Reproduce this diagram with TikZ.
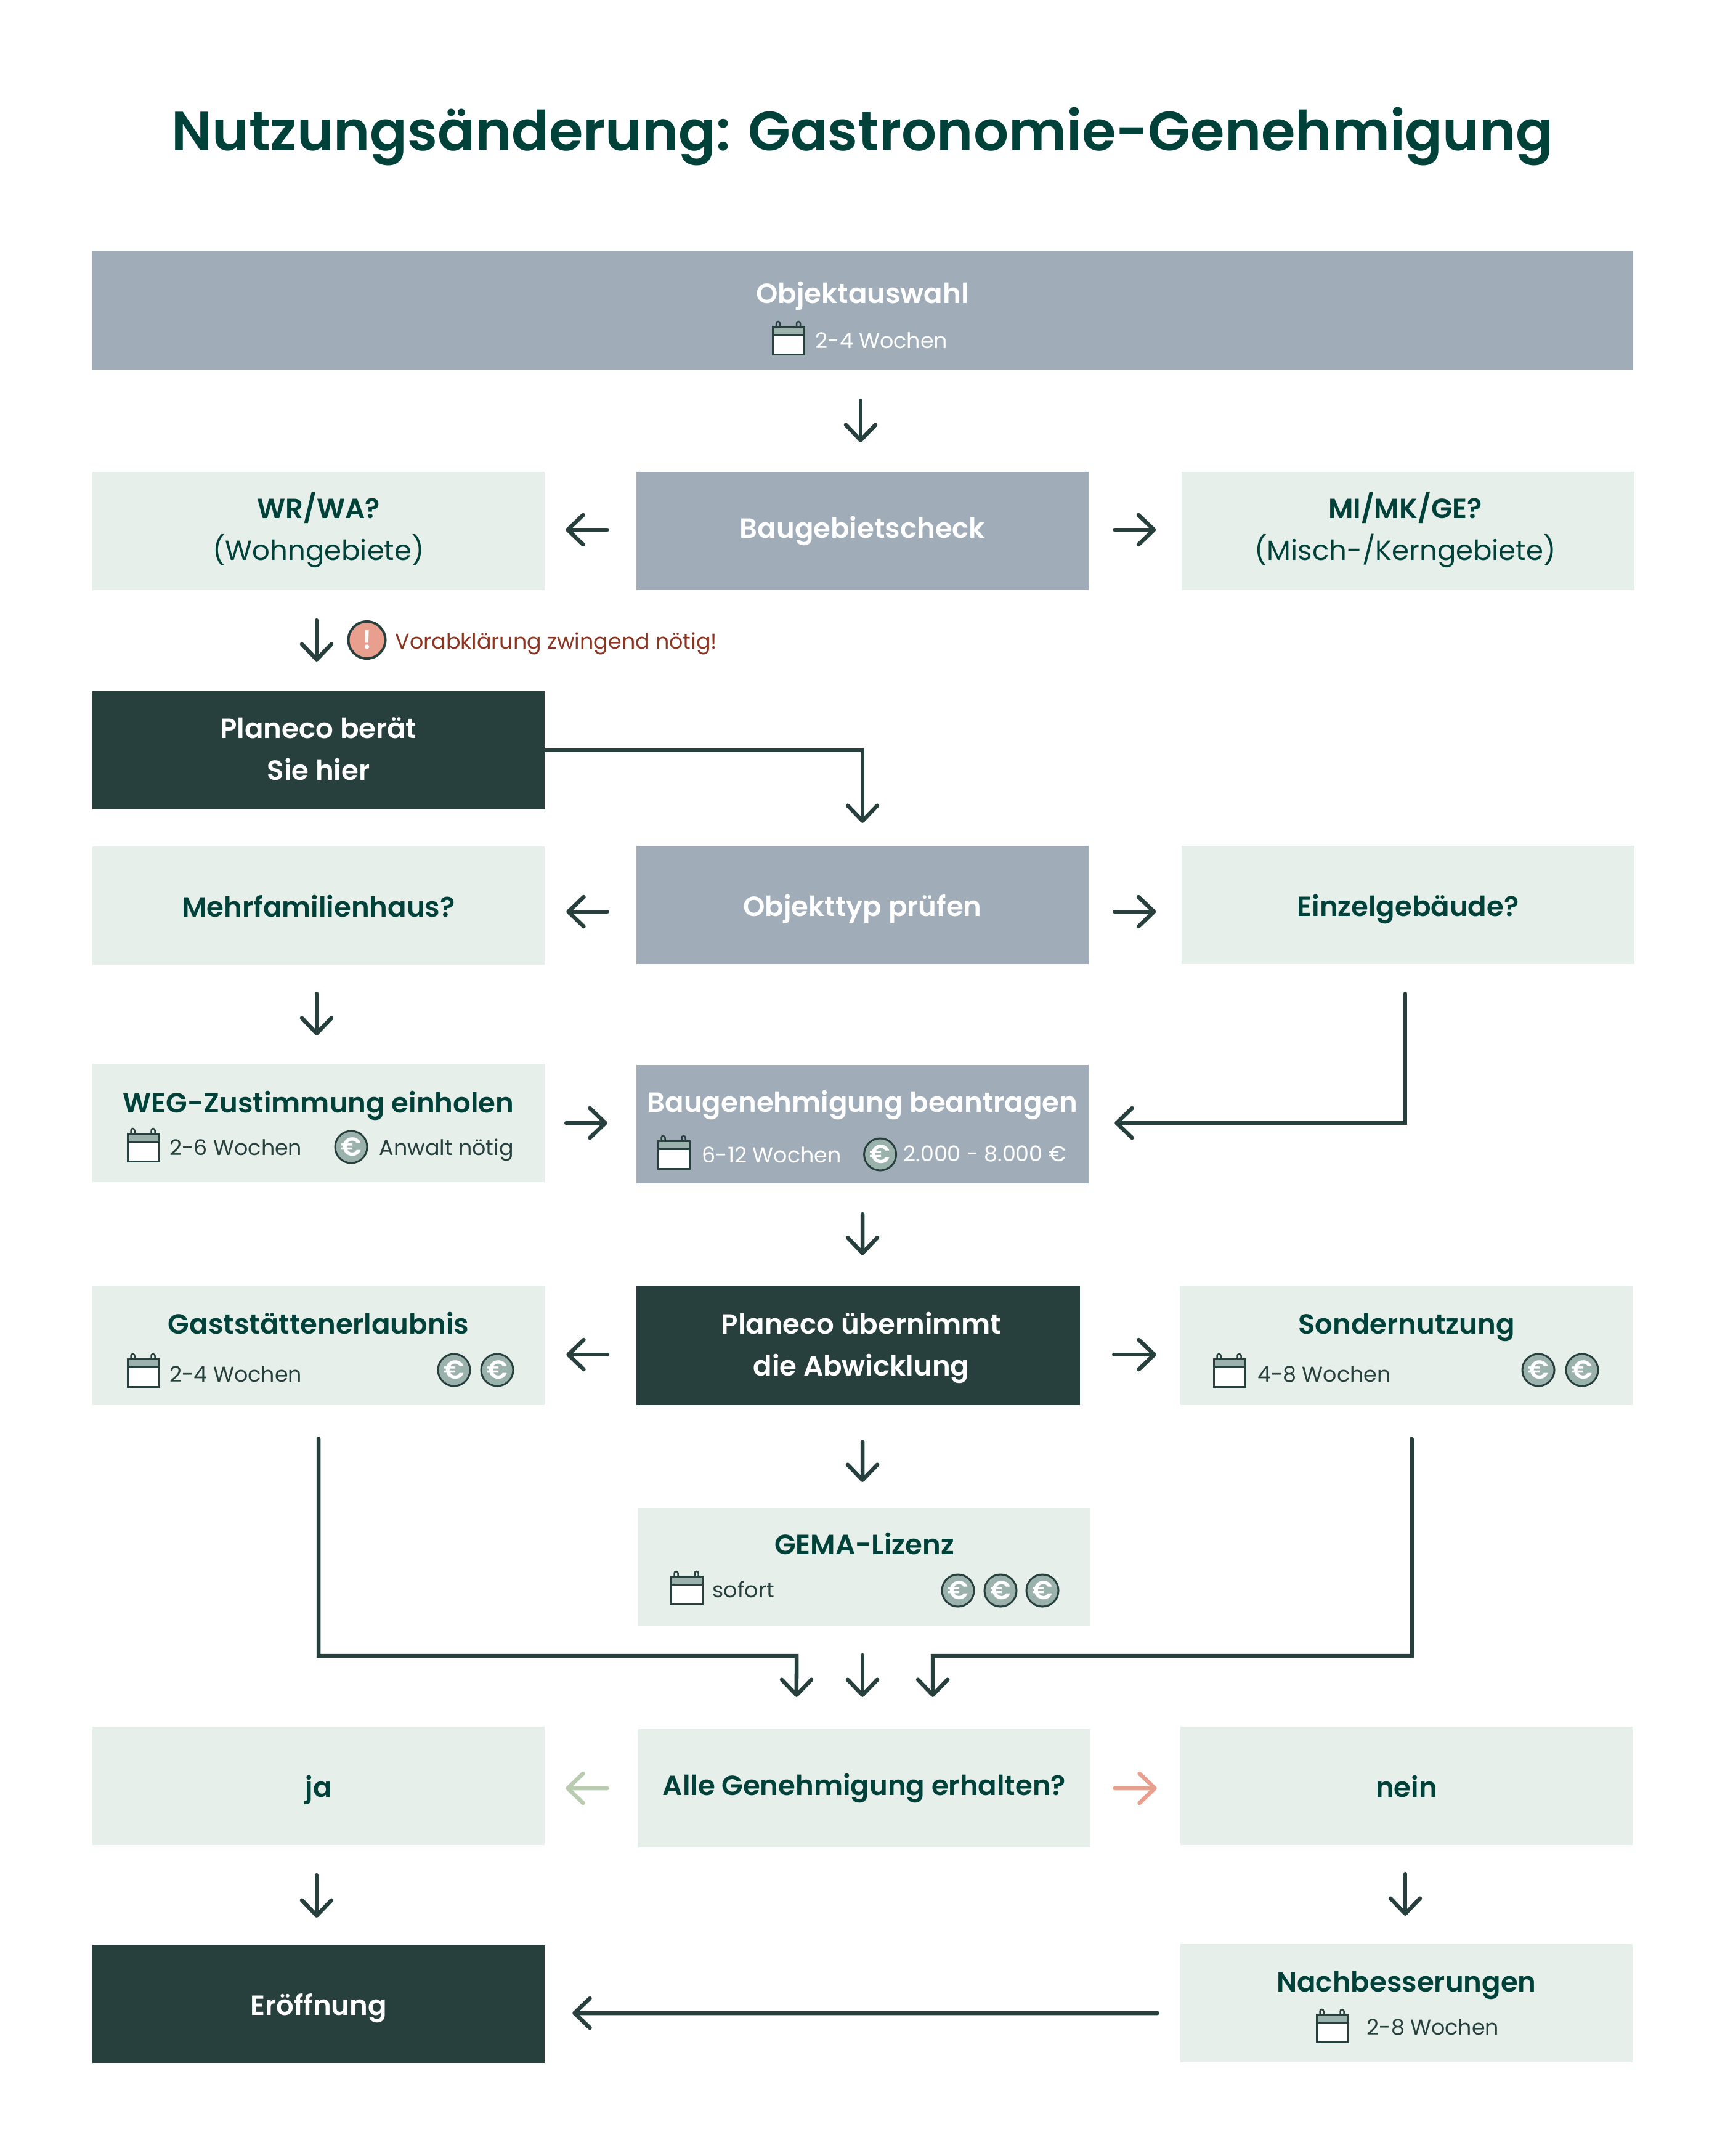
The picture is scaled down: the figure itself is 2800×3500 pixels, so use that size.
\documentclass[tikz,border=0pt]{standalone}
\usepackage{fontspec}
\setmainfont{Poppins}[BoldFont=* SemiBold]
\usetikzlibrary{arrows.meta}

\definecolor{deep}{HTML}{00423A}
\definecolor{ink}{HTML}{27403D}
\definecolor{mist}{HTML}{E6EFEA}
\definecolor{slate}{HTML}{A0ADB9}
\definecolor{sage}{HTML}{9BB2AC}
\definecolor{salmon}{HTML}{E99F8E}
\definecolor{fern}{HTML}{B9CCB0}
\definecolor{rust}{HTML}{8B3420}

\tikzset{
  box/.style={rectangle,inner sep=0pt,outer sep=0pt,minimum width=7.34cm,minimum height=1.92cm,
    font=\fontsize{12.8}{19.3}\selectfont\bfseries,align=center},
  lightbox/.style={box,fill=mist,text=deep},
  greybox/.style={box,fill=slate,text=white},
  darkbox/.style={box,fill=ink,text=white},
  liftup/.style={text height=0pt,text depth=#1},
  liftdown/.style={text height=#1,text depth=0pt},
  detail/.style={anchor=base west,inner sep=0pt,font=\fontsize{9.92}{12}\selectfont,text=ink},
  coin/.style={circle,draw=ink,line width=.03cm,fill=sage,inner sep=0pt,minimum size=.52cm,text=white,
    font=\fontsize{12}{12}\selectfont\bfseries},
  flow/.style={draw=ink,line width=.065cm,line cap=round,-{Straight Barb[round,length=.25cm,width=.48cm]}},
  gap/.style 2 args={shorten <=#1,shorten >=#2},
  pics/cal/.style={code={
    \draw[ink,line width=.03cm,fill=sage] (0,0) rectangle (51,13);
    \draw[ink,line width=.03cm,fill=white] (0,13) rectangle (51,45);
    \foreach \lx in {8.5,41.5}
      \draw[ink,line width=.025cm] (\lx-3,0) -- ++(0,-5) arc (180:360:3) -- ++(0,5);
  }},
}

\begin{document}
\begin{tikzpicture}[x=.01cm,y=-.01cm]
  \useasboundingbox (0,0) rectangle (2800,3500);

  \node[text=deep,font=\fontsize{25.5}{36}\selectfont\bfseries,anchor=base,inner sep=0pt] (heading) at (1400,245)
    {Nutzungsänderung: Gastronomie-Genehmigung};

  % Zeile 1
  \node[greybox,minimum width=25cm,liftup=.22cm] (objekt) at (1400,504) {Objektauswahl};
  \pic at (1254.5,530) {cal};
  \node[detail,text=white] (objektT) at (1323,565) {2-4 Wochen};

  % Baugebiet
  \node[greybox,liftdown=.22cm] (bau) at (1400,862) {Baugebietscheck};
  \node[lightbox,liftdown=.94cm] (wr) at (517,862) {WR/WA?\\{\mdseries (Wohngebiete)}};
  \node[lightbox,liftdown=.94cm] (mi) at (2285.5,862) {MI/MK/GE?\hspace*{.09cm}\\{\mdseries (Misch-/Kerngebiete)}\hspace*{.09cm}};
  \node[circle,draw=ink,line width=.04cm,fill=salmon,inner sep=0pt,minimum size=.6cm,text=white,
    font=\fontsize{12}{12}\selectfont\bfseries] (warn) at (595.5,1039) {!};
  \node[detail,text=rust] (warnT) at (641,1053) {Vorabklärung zwingend nötig!};
  \node[darkbox,liftdown=.96cm] (plan) at (517,1218) {Planeco berät\\Sie hier};

  % Objekttyp
  \node[greybox,liftdown=.36cm] (typ) at (1400,1469) {Objekttyp prüfen};
  \node[lightbox,liftdown=.36cm] (mehr) at (517,1470) {Mehrfamilienhaus?};
  \node[lightbox,liftdown=.36cm] (einzel) at (2285.5,1469) {Einzelgebäude?};

  % Anträge
  \node[lightbox,liftup=.34cm] (weg) at (517,1823) {WEG-Zustimmung einholen};
  \pic at (207,1840) {cal};
  \node[detail] (wegT) at (275,1875.5) {2-6 Wochen};
  \node[coin] (wegcoin) at (570,1862) {€};
  \node[detail] (wegA) at (615,1875.5) {Anwalt nötig};
  \node[greybox,liftup=.4cm] (antrag) at (1400,1825) {Baugenehmigung beantragen};
  \pic at (1068,1852) {cal};
  \node[detail,text=white] (antragT) at (1139,1887) {6-12 Wochen};
  \node[coin] (antragcoin) at (1428.6,1874) {€};
  \node[detail,text=white] (antragK) at (1466,1885) {2.000 - 8.000 €};

  % Abwicklung
  \node[darkbox,minimum width=7.2cm,liftdown=.98cm] (abw) at (1393,2184.5) {\hspace*{.1cm}Planeco übernimmt\\\hspace*{.1cm}die Abwicklung};
  \node[lightbox,liftup=.39cm] (gast) at (517,2184.5) {Gaststättenerlaubnis};
  \pic at (207,2206) {cal};
  \node[detail] (gastT) at (275,2243) {2-4 Wochen};
  \foreach \cx [count=\n] in {737,807} \node[coin] (gastcoin\n) at (\cx,2224) {€};
  \node[lightbox,liftup=.39cm] (sonder) at (2283,2184.5) {Sondernutzung};
  \pic at (1970,2206) {cal};
  \node[detail] (sonderT) at (2040.5,2243) {4-8 Wochen};
  \foreach \cx [count=\n] in {2497,2568} \node[coin] (sondercoin\n) at (\cx,2224) {€};
  \node[lightbox,liftup=.42cm] (gema) at (1403,2544) {GEMA-Lizenz};
  \pic at (1089,2559) {cal};
  \node[detail] (gemaT) at (1156,2593) {sofort};
  \foreach \cx [count=\n] in {1555,1624,1692} \node[coin] (gemacoin\n) at (\cx,2582) {€};

  % Ergebnis
  \node[lightbox,liftdown=.22cm] (alle) at (1403,2903) {Alle Genehmigung erhalten?};
  \node[lightbox,liftdown=.36cm] (ja) at (517,2899) {ja};
  \node[lightbox,liftdown=.36cm] (nein) at (2283,2899) {nein};
  \node[darkbox,liftdown=.36cm] (auf) at (517,3253) {Eröffnung};
  \node[lightbox,liftup=.38cm] (nach) at (2283,3252) {Nachbesserungen};
  \pic at (2137,3270) {cal};
  \node[detail] (nachT) at (2218,3303) {2-8 Wochen};

  % Pfeile
  \draw[flow,gap={.5cm}{.48cm}] ([xshift=-.03cm]objekt.south) -- ([xshift=-.03cm]bau.north);
  \draw[flow,gap={.47cm}{.34cm}] ([yshift=.02cm]bau.west) -- ([yshift=.02cm]wr.east);
  \draw[flow,gap={.42cm}{.42cm}] ([yshift=.02cm]bau.east) -- ([yshift=.02cm]mi.west);
  \draw[flow,gap={.49cm}{.48cm}] ([xshift=-.03cm]wr.south) -- ([xshift=-.03cm]plan.north);
  \draw[flow,gap={0cm}{.37cm}] (plan.east) -| (typ.north);
  \draw[flow,gap={.47cm}{.35cm}] ([yshift=-.11cm]typ.west) -- ([yshift=-.1cm]mehr.east);
  \draw[flow,gap={.42cm}{.42cm}] ([yshift=-.11cm]typ.east) -- ([yshift=-.11cm]einzel.west);
  \draw[flow,gap={.47cm}{.46cm}] ([xshift=-.03cm]mehr.south) -- ([xshift=-.03cm]weg.north);
  \draw[flow,gap={.35cm}{.47cm}] (weg.east) -- ([yshift=.02cm]antrag.west);
  \draw[flow,gap={.48cm}{.42cm}] ([xshift=-.045cm]einzel.south) |- ([yshift=.02cm]antrag.east);
  \draw[flow,gap={.5cm}{.51cm}] (antrag.south) -- ([xshift=.07cm]abw.north);
  \draw[flow,gap={.47cm}{.35cm}] ([yshift=-.145cm]abw.west) -- ([yshift=-.145cm]gast.east);
  \draw[flow,gap={.55cm}{.39cm}] ([yshift=-.145cm]abw.east) -- ([yshift=-.145cm]sonder.west);
  \draw[flow,gap={.6cm}{.42cm}] ([xshift=.07cm]abw.south) -- ([xshift=-.03cm]gema.north);
  \coordinate (joinL) at (1293,2688);
  \coordinate (joinR) at (1514,2688);
  \draw[flow,gap={.55cm}{.52cm}] (gast.south) |- (joinL) -- ([xshift=-1.1cm]alle.north);
  \draw[flow,gap={.47cm}{.52cm}] ([xshift=-.03cm]gema.south) -- ([xshift=-.03cm]alle.north);
  \draw[flow,gap={.55cm}{.52cm}] ([xshift=.085cm]sonder.south) |- (joinR) -- ([xshift=1.11cm]alle.north);
  \draw[flow,draw=fern,gap={.5cm}{.34cm}] (alle.west) -- ([yshift=-.04cm]ja.east);
  \draw[flow,draw=salmon,gap={.39cm}{.38cm}] (alle.east) -- ([yshift=-.04cm]nein.west);
  \draw[flow,gap={.49cm}{.44cm}] ([xshift=-.03cm]ja.south) -- ([xshift=-.03cm]auf.north);
  \draw[flow,gap={.47cm}{.46cm}] ([xshift=-.02cm]nein.south) -- ([xshift=-.02cm]nach.north);
  \draw[flow,gap={.37cm}{.45cm}] ([yshift=-.16cm]nach.west) -- ([yshift=-.15cm]auf.east);
\end{tikzpicture}
\end{document}
